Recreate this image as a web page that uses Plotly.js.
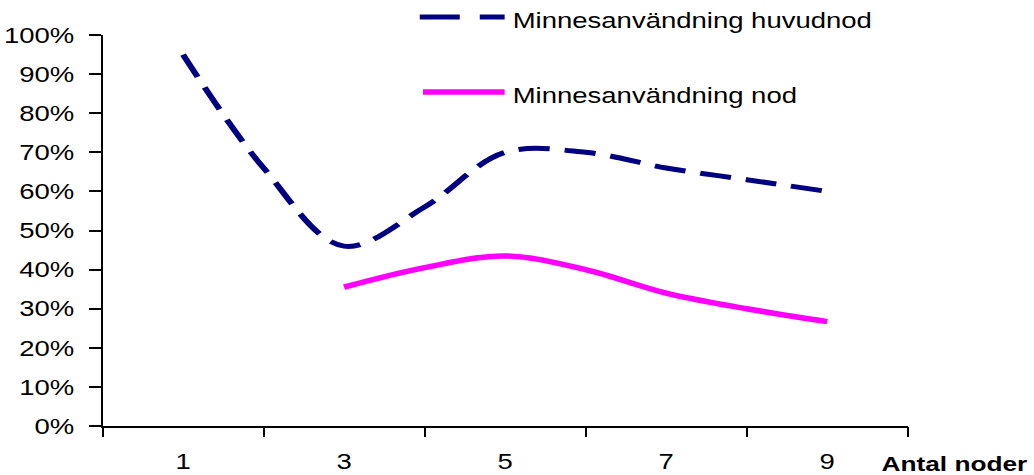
<!DOCTYPE html>
<html>
<head>
<meta charset="utf-8">
<script src="https://cdn.plot.ly/plotly-3.0.1.min.js"></script>
<style>
  html, body { margin: 0; padding: 0; background: #fff; overflow: hidden; }
  /* the chart is laid out narrower and widened, giving the broad lettering */
  #chart { width: 827px; height: 475px; transform: scaleX(1.2503); transform-origin: 0 0; }
</style>
</head>
<body>
<div id="chart"></div>
<script>
// Memory usage per number of nodes
const nodesMain = [1, 2, 3, 4, 5, 6, 7, 8, 9];
const mainUsage = [0.95, 0.66, 0.46, 0.56, 0.70, 0.70, 0.66, 0.63, 0.60];

const nodesWorker = [3, 4, 5, 6, 7, 8, 9];
const workerUsage = [0.355, 0.405, 0.435, 0.40, 0.34, 0.30, 0.267];

const xTickLabels = [1, 3, 5, 7, 9];
const xTickMarks = [0, 2, 4, 6, 8, 10];
const yTicks = [0, 0.1, 0.2, 0.3, 0.4, 0.5, 0.6, 0.7, 0.8, 0.9, 1.0];

const seriesNames = ['Minnesanvändning huvudnod', 'Minnesanvändning nod'];
const navy = '#000080';
const magenta = '#FF00FF';
const font = 'Liberation Sans, Arial, sans-serif';

const traces = [
  {
    x: nodesMain, y: mainUsage, type: 'scatter', mode: 'lines',
    name: seriesNames[0],
    line: { color: navy, width: 5, dash: '25px,12px', shape: 'spline', smoothing: 1 },
    showlegend: false, hoverinfo: 'skip'
  },
  {
    x: nodesWorker, y: workerUsage, type: 'scatter', mode: 'lines',
    name: seriesNames[1],
    line: { color: magenta, width: 5.5, shape: 'spline', smoothing: 1 },
    showlegend: false, hoverinfo: 'skip'
  },
  // empty trace that puts the category tick marks on xaxis2
  { x: [0], y: [null], xaxis: 'x2', yaxis: 'y', type: 'scatter', mode: 'lines',
    showlegend: false, hoverinfo: 'skip' }
];

const layout = {
  width: 827, height: 475,
  margin: { l: 82.4, r: 100.6, t: 35, b: 49 },
  paper_bgcolor: '#fff', plot_bgcolor: '#fff',
  font: { family: font, size: 22, color: '#000' },
  showlegend: false,
  xaxis: {
    range: [0, 10], showgrid: false, zeroline: false,
    showline: true, linecolor: '#000', linewidth: 2,
    tickmode: 'array', tickvals: xTickLabels, ticktext: xTickLabels.map(String),
    ticks: '', ticklabelstandoff: 15,
    tickfont: { family: font, size: 22, color: '#000' }
  },
  xaxis2: {
    range: [0, 10], overlaying: 'x', anchor: 'y', side: 'bottom',
    showgrid: false, zeroline: false, showline: false,
    tickmode: 'array', tickvals: xTickMarks,
    ticks: 'outside', ticklen: 10, tickwidth: 1.6, tickcolor: '#000',
    showticklabels: false
  },
  yaxis: {
    range: [0, 1], showgrid: false, zeroline: false,
    showline: true, linecolor: '#000', linewidth: 1.6,
    tickmode: 'array', tickvals: yTicks, tickformat: '.0%',
    ticks: 'outside', ticklen: 9.6, tickwidth: 2, tickcolor: '#000',
    ticklabelstandoff: 7,
    tickfont: { family: font, size: 22, color: '#000' }
  },
  shapes: [
    { type: 'line', xref: 'paper', yref: 'paper', x0: 0.394, x1: 0.4994, y0: 1.046, y1: 1.046,
      line: { color: navy, width: 5, dash: '32px,16px' } },
    { type: 'line', xref: 'paper', yref: 'paper', x0: 0.398, x1: 0.4994, y0: 0.854, y1: 0.854,
      line: { color: magenta, width: 5.5 } }
  ],
  annotations: [
    { xref: 'paper', yref: 'paper', x: 0.5056, y: 1.036, xanchor: 'left', yanchor: 'middle',
      text: seriesNames[0], showarrow: false, font: { family: font, size: 22, color: '#000' } },
    { xref: 'paper', yref: 'paper', x: 0.5056, y: 0.844, xanchor: 'left', yanchor: 'middle',
      text: seriesNames[1], showarrow: false, font: { family: font, size: 22, color: '#000' } },
    { xref: 'paper', yref: 'paper', x: 1.1516, y: -0.097, xanchor: 'right', yanchor: 'middle',
      text: '<b>Antal noder</b>', showarrow: false, font: { family: font, size: 21, color: '#000' } }
  ]
};

Plotly.newPlot('chart', traces, layout, { staticPlot: true, displayModeBar: false });
</script>
</body>
</html>
